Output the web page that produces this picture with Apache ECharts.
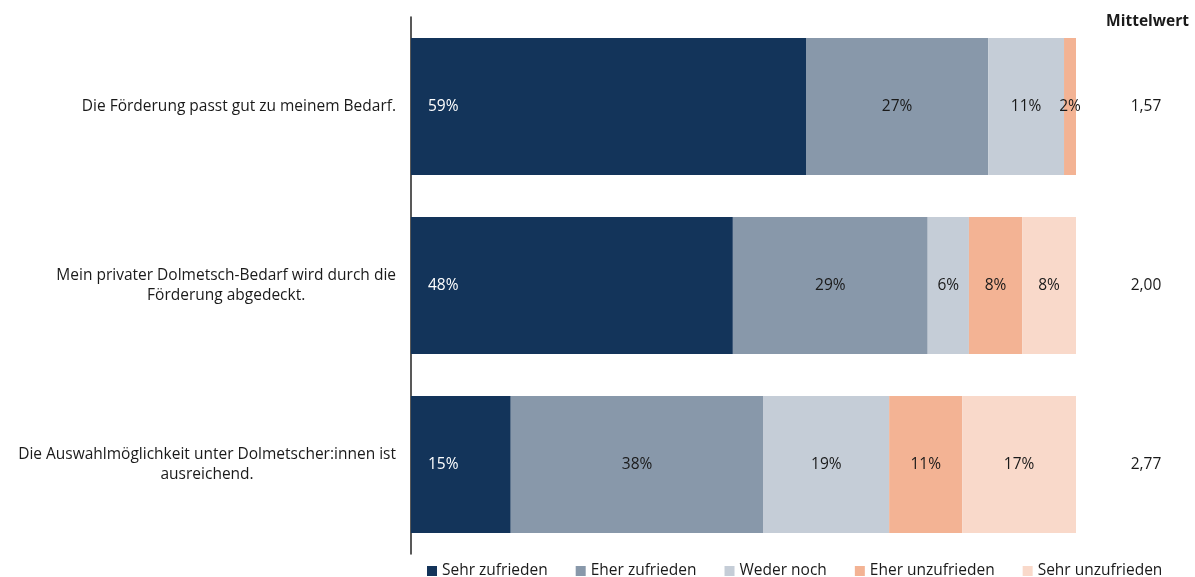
<!DOCTYPE html>
<html>
<head>
<meta charset="utf-8">
<script src="https://cdn.jsdelivr.net/npm/echarts@6/dist/echarts.min.js"></script>
<style>
  html, body { margin: 0; padding: 0; background: #fff; }
  #chart { width: 1195px; height: 577px; }
</style>
</head>
<body>
<div id="chart"></div>
<script>
// Statements (top to bottom)
const statements = [
  'Die Förderung passt gut zu meinem Bedarf.',
  'Mein privater Dolmetsch-Bedarf wird durch die\nFörderung abgedeckt.',
  'Die Auswahlmöglichkeit unter Dolmetscher:innen ist\nausreichend.'
];

// Answer shares in percent, one array per answer category
const sehrZufrieden   = [59.4, 48.4, 15.0];
const eherZufrieden   = [27.4, 29.3, 38.0];
const wederNoch       = [11.4, 6.2, 18.9];
const eherUnzufrieden = [1.8, 8.0, 11.0];
const sehrUnzufrieden = [null, 8.1, 17.1];

// Mean score per statement (1 = sehr zufrieden … 5 = sehr unzufrieden)
const meanValues = [1.57, 2.00, 2.77];

const seriesNames = ['Sehr zufrieden', 'Eher zufrieden', 'Weder noch', 'Eher unzufrieden', 'Sehr unzufrieden'];
const seriesData = [sehrZufrieden, eherZufrieden, wederNoch, eherUnzufrieden, sehrUnzufrieden];
const colors = ['#13345A', '#8898AA', '#C5CDD7', '#F3B394', '#F9D9CA'];

const FONT = '"Open Sans", "Noto Sans", sans-serif';
const FS = 15.5;
const TEXT = '#1a1a1a';

const chart = echarts.init(document.getElementById('chart'), null, { renderer: 'canvas' });

const series = seriesNames.map((name, i) => ({
  name,
  type: 'bar',
  stack: 'total',
  barWidth: 137,
  data: seriesData[i],
  itemStyle: { color: colors[i] },
  label: {
    show: true,
    position: i === 0 ? 'insideLeft' : 'inside',
    distance: 17,
    color: i === 0 ? '#ffffff' : TEXT,
    fontFamily: FONT,
    fontSize: FS,
    formatter: p => (p.value == null || p.value === 0) ? '' : Math.round(p.value) + '%'
  },
  emphasis: { disabled: true }
}));

chart.setOption({
  animation: false,
  textStyle: { fontFamily: FONT },
  grid: { left: 411, right: 119, top: 17, bottom: 23, containLabel: false },
  legend: {
    data: seriesNames,
    left: 427,
    top: 563,
    padding: 0,
    icon: 'rect',
    itemWidth: 10,
    itemHeight: 10,
    itemGap: 28,
    textStyle: { fontFamily: FONT, fontSize: FS, color: TEXT }
  },
  xAxis: {
    type: 'value',
    min: 0,
    max: 100,
    show: false
  },
  yAxis: [
    {
      type: 'category',
      data: statements,
      inverse: true,
      axisLine: { show: true, lineStyle: { color: '#222', width: 1.5 } },
      axisTick: { show: false },
      axisLabel: {
        margin: 15,
        align: 'right',
        formatter: v => v.split('\n').map(l => '{c|' + l + '}').join('\n'),
        rich: {
          c: { align: 'center', fontFamily: FONT, fontSize: FS, color: TEXT, lineHeight: 20 }
        }
      }
    },
    {
      type: 'category',
      data: meanValues.map(v => v.toFixed(2).replace('.', ',')),
      inverse: true,
      position: 'right',
      axisLine: { show: false },
      axisTick: { show: false },
      axisLabel: {
        margin: 70,
        align: 'center',
        fontFamily: FONT,
        fontSize: FS,
        color: TEXT
      }
    }
  ],
  graphic: [
    {
      type: 'text',
      right: 6,
      top: 14,
      style: {
        text: 'Mittelwert',
        fontFamily: FONT,
        fontSize: FS,
        fontWeight: 'bold',
        fill: TEXT
      }
    }
  ],
  series
});
</script>
</body>
</html>
